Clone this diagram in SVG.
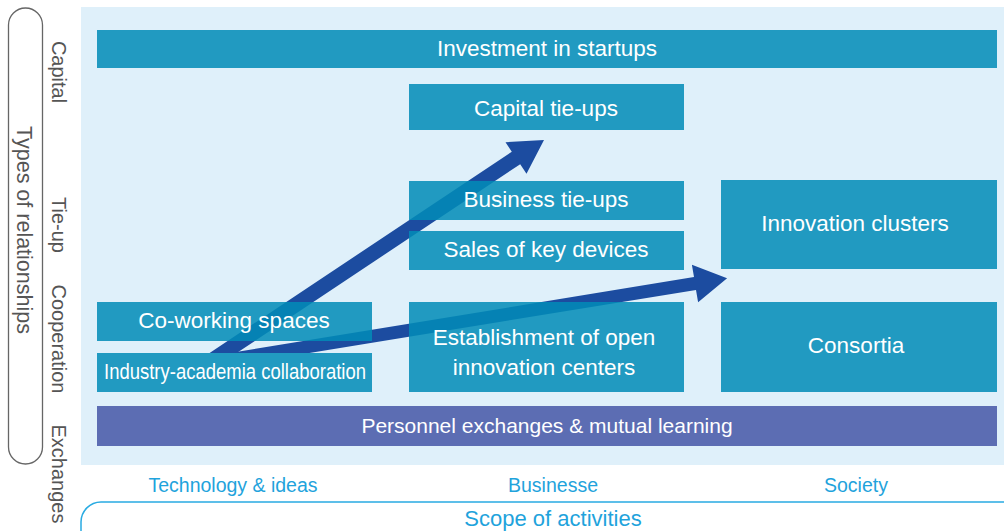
<svg xmlns="http://www.w3.org/2000/svg" width="1004" height="531" viewBox="0 0 1004 531">
<style>
.bx{fill:#018cb7;fill-opacity:0.86}
.bt{font-family:"Liberation Sans",Arial,sans-serif;font-size:22.5px;fill:#ffffff;text-anchor:middle}
.side{font-family:"Liberation Sans",Arial,sans-serif;font-size:20px;fill:#555555;text-anchor:middle}
.scope{font-family:"Liberation Sans",Arial,sans-serif;font-size:19.5px;fill:#1fa3dc;text-anchor:middle}
.arr{fill:#1c4ca0}
</style>
<rect x="0" y="0" width="1004" height="531" fill="#ffffff"/>
<rect id="panel" x="81" y="7" width="923" height="458" fill="#dff0fa"/>
<g id="axis-y">
<rect x="8.5" y="8" width="34" height="456" rx="17" ry="17" fill="none" stroke="#666666" stroke-width="1.3"/>
<text class="side" style="font-size:21.5px" transform="translate(17,230) rotate(90)">Types of relationships</text>
<text class="side" transform="translate(52,72) rotate(90)">Capital</text>
<text class="side" transform="translate(52,225) rotate(90)">Tie-up</text>
<text class="side" transform="translate(52,339) rotate(90)">Cooperation</text>
<text class="side" transform="translate(52,474) rotate(90)">Exchanges</text>
</g>
<g id="axis-x">
<text class="scope" x="233" y="492">Technology &amp; ideas</text>
<text class="scope" x="553" y="492">Businesse</text>
<text class="scope" x="856" y="492">Society</text>
<path d="M1006,502 H101 A20,20 0 0 0 81,522 V535" fill="none" stroke="#29abe2" stroke-width="1.5"/>
<text class="scope" style="font-size:22px" x="553" y="526">Scope of activities</text>
</g>
<g id="connectors">
<polygon class="arr" points="209.6,353 511.8,151.8 505.5,142.2 544,140 526.5,173.8 520.2,164.2 236.7,353"/>
<polygon class="arr" points="230,353 694,277.1 691.9,264.8 727.1,278.3 698.1,302.3 696,289.9 309.4,353"/>
</g>
<g id="investment"><rect class="bx" x="97" y="30" width="900" height="38"/><text class="bt" x="547" y="56">Investment in startups</text></g>
<g id="capital-tieups"><rect class="bx" x="409" y="84" width="275" height="46"/><text class="bt" x="546" y="116">Capital tie-ups</text></g>
<g id="business-tieups"><rect class="bx" x="409" y="181" width="275" height="39"/><text class="bt" x="546" y="207">Business tie-ups</text></g>
<g id="sales"><rect class="bx" x="409" y="231" width="275" height="39"/><text class="bt" x="546" y="257">Sales of key devices</text></g>
<g id="innovation-clusters"><rect class="bx" x="721" y="180" width="276" height="89"/><text class="bt" x="855" y="231">Innovation clusters</text></g>
<g id="coworking"><rect class="bx" x="97" y="302" width="275" height="39"/><text class="bt" x="234" y="328">Co-working spaces</text></g>
<g id="industry-academia"><rect class="bx" x="97" y="353" width="275" height="39"/><text class="bt" x="235" y="379" textLength="262" lengthAdjust="spacingAndGlyphs">Industry-academia collaboration</text></g>
<g id="open-innovation"><rect class="bx" x="409" y="302" width="275" height="90"/><text class="bt" x="544" y="345">Establishment of open</text><text class="bt" x="544" y="375">innovation centers</text></g>
<g id="consortia"><rect class="bx" x="721" y="302" width="276" height="90"/><text class="bt" x="856" y="353">Consortia</text></g>
<g id="personnel"><rect x="97" y="406" width="900" height="40" fill="#5c6db3"/><text class="bt" style="font-size:21px" x="547" y="433">Personnel exchanges &amp; mutual learning</text></g>
</svg>
